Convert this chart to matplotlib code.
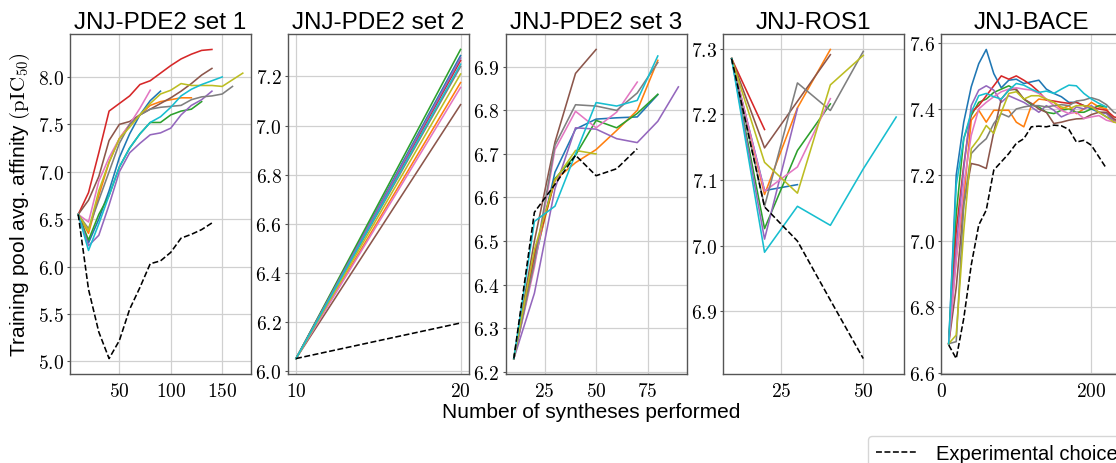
import matplotlib
matplotlib.use("Agg")
import matplotlib.pyplot as plt
from matplotlib.ticker import FuncFormatter, MultipleLocator
from matplotlib.lines import Line2D

plt.rcParams['font.family'] = ['Liberation Sans', 'DejaVu Sans']
plt.rcParams['mathtext.fontset'] = 'cm'

colors = ['C0', 'C1', 'C2', 'C3', 'C4', 'C5', 'C6', 'C7', 'C8', 'C9']

# ---- JNJ-PDE2 set 1 ----
x1 = [10, 20, 30, 40, 50, 60, 70, 80, 90, 100, 110, 120, 130, 140, 150, 160, 170]
pde1 = {
    'C0': [6.55, 6.25, 6.50, 6.80, 7.15, 7.40, 7.60, 7.75, 7.85],
    'C1': [6.55, 6.35, 6.75, 7.10, 7.35, 7.50, 7.60, 7.70, 7.74, 7.76, 7.78, 7.78],
    'C2': [6.55, 6.28, 6.55, 6.75, 7.05, 7.25, 7.40, 7.52, 7.52, 7.60, 7.64, 7.66, 7.74],
    'C3': [6.55, 6.78, 7.20, 7.64, 7.72, 7.80, 7.92, 7.96, 8.04, 8.12, 8.19, 8.24, 8.28, 8.29],
    'C4': [6.55, 6.22, 6.33, 6.65, 7.00, 7.20, 7.30, 7.39, 7.41, 7.46, 7.60, 7.70, 7.76, 7.85],
    'C5': [6.55, 6.70, 6.95, 7.33, 7.50, 7.53, 7.60, 7.66, 7.72, 7.78, 7.85, 7.93, 8.02, 8.09],
    'C6': [6.55, 6.47, 6.90, 7.15, 7.35, 7.50, 7.67, 7.86],
    'C7': [6.55, 6.40, 6.70, 7.00, 7.30, 7.50, 7.60, 7.66, 7.68, 7.69, 7.70, 7.76, 7.79, 7.80, 7.82, 7.90],
    'C8': [6.55, 6.38, 6.80, 7.10, 7.35, 7.47, 7.60, 7.72, 7.82, 7.86, 7.93, 7.91, 7.91, 7.91, 7.90, 7.97, 8.04],
    'C9': [6.55, 6.17, 6.45, 6.75, 7.05, 7.25, 7.40, 7.52, 7.58, 7.68, 7.80, 7.87, 7.92, 7.96, 8.00],
}
exp1 = [6.55, 5.76, 5.31, 5.03, 5.22, 5.55, 5.78, 6.03, 6.06, 6.15, 6.30, 6.34, 6.39, 6.46]

# ---- JNJ-PDE2 set 2 ----
x2 = [10, 20]
pde2 = {
    'C0': [6.05, 7.285], 'C1': [6.05, 7.175], 'C2': [6.05, 7.31], 'C3': [6.05, 7.265],
    'C4': [6.05, 7.275], 'C5': [6.05, 7.085], 'C6': [6.05, 7.155], 'C7': [6.05, 7.24],
    'C8': [6.05, 7.21], 'C9': [6.05, 7.25],
}
exp2 = [6.05, 6.195]

# ---- JNJ-PDE2 set 3 ----
x3 = [10, 20, 30, 40, 50, 60, 70, 80, 90]
pde3 = {
    'C0': [6.23, 6.45, 6.658, 6.757, 6.78, 6.783, 6.785, 6.836],
    'C1': [6.23, 6.46, 6.64, 6.68, 6.71, 6.754, 6.80, 6.915],
    'C2': [6.23, 6.47, 6.643, 6.697, 6.777, 6.76, 6.793, 6.837],
    'C3': [6.23, 6.47, 6.64],
    'C4': [6.23, 6.38, 6.62, 6.76, 6.757, 6.735, 6.726, 6.775, 6.854],
    'C5': [6.23, 6.50, 6.727, 6.885, 6.94],
    'C6': [6.23, 6.44, 6.71, 6.798, 6.76, 6.796, 6.865],
    'C7': [6.23, 6.45, 6.72, 6.813, 6.81, 6.80, 6.84, 6.91],
    'C8': [6.23, 6.48, 6.64, 6.708, 6.70],
    'C9': [6.23, 6.545, 6.58, 6.70, 6.818, 6.81, 6.823, 6.925],
}
exp3 = [6.23, 6.566, 6.63, 6.697, 6.65, 6.666, 6.712]

# ---- JNJ-ROS1 ----
x4 = [10, 20, 30, 40, 50, 60]
ros1 = {
    'C0': [7.285, 7.084, 7.093],
    'C1': [7.285, 7.078, 7.21, 7.299],
    'C2': [7.285, 7.026, 7.145, 7.216],
    'C3': [7.285, 7.177],
    'C4': [7.285, 7.01, 7.209],
    'C5': [7.285, 7.149, 7.22, 7.291],
    'C6': [7.285, 7.083, 7.12, 7.224],
    'C7': [7.285, 7.06, 7.248, 7.206, 7.296],
    'C8': [7.285, 7.127, 7.08, 7.245, 7.29],
    'C9': [7.285, 6.99, 7.06, 7.031, 7.117, 7.196],
}
exp4 = [7.285, 7.059, 7.007, 6.917, 6.828]

# ---- JNJ-BACE ----
x5 = [10, 20, 30, 40, 50, 60, 70, 80, 90, 100, 110, 120, 130, 140, 150, 160,
      170, 180, 190, 200, 210, 220, 230, 240]
bace = {
    'C0': [6.69, 7.20, 7.36, 7.467, 7.537, 7.58, 7.507, 7.464, 7.487, 7.49, 7.477, 7.482,
           7.487, 7.46, 7.447, 7.437, 7.42, 7.42, 7.41, 7.40, 7.39, 7.376, 7.366, 7.36],
    'C1': [6.69, 6.95, 7.13, 7.366, 7.396, 7.36, 7.396, 7.396, 7.396, 7.36, 7.346, 7.41,
           7.43, 7.427, 7.42, 7.40, 7.41, 7.386, 7.40, 7.42, 7.406, 7.40, 7.366, 7.36],
    'C2': [6.69, 7.08, 7.31, 7.38, 7.42, 7.43, 7.45, 7.46, 7.47, 7.457, 7.43, 7.413,
           7.406, 7.39, 7.386, 7.396, 7.40, 7.39, 7.39, 7.40, 7.41, 7.406],
    'C3': [6.69, 7.03, 7.23, 7.39, 7.41, 7.44, 7.47, 7.50, 7.49, 7.50, 7.487, 7.472,
           7.452, 7.427, 7.424, 7.42, 7.417, 7.42, 7.41, 7.406, 7.40, 7.396, 7.376, 7.37],
    'C4': [6.69, 6.98, 7.22, 7.41, 7.457, 7.47, 7.457, 7.42, 7.44, 7.43, 7.42, 7.406,
           7.39, 7.41, 7.396, 7.376, 7.386, 7.406, 7.40, 7.41, 7.39, 7.386, 7.363, 7.36],
    'C5': [6.69, 6.86, 7.11, 7.235, 7.23, 7.22, 7.33, 7.43, 7.457, 7.46, 7.43, 7.417,
           7.40, 7.39, 7.356, 7.36, 7.366, 7.37, 7.371, 7.383, 7.39, 7.39, 7.37, 7.36],
    'C6': [6.69, 6.94, 7.17, 7.32, 7.40, 7.42, 7.437, 7.452, 7.46, 7.464, 7.46, 7.457,
           7.447, 7.43, 7.41, 7.396, 7.386, 7.39, 7.371, 7.376, 7.38, 7.366, 7.36, 7.36],
    'C7': [6.69, 6.696, 7.11, 7.265, 7.29, 7.31, 7.356, 7.386, 7.376, 7.40, 7.406, 7.41,
           7.41, 7.406, 7.41, 7.413, 7.41, 7.424, 7.427, 7.434, 7.427, 7.413, 7.39, 7.38],
    'C8': [6.69, 6.716, 7.03, 7.28, 7.31, 7.35, 7.326, 7.39, 7.447, 7.452, 7.43, 7.44,
           7.44, 7.43, 7.42, 7.406, 7.40, 7.41, 7.41, 7.406, 7.39, 7.376, 7.36, 7.355],
    'C9': [6.69, 7.17, 7.31, 7.39, 7.44, 7.447, 7.437, 7.43, 7.457, 7.477, 7.472, 7.46,
           7.45, 7.454, 7.447, 7.46, 7.472, 7.47, 7.447, 7.43, 7.417, 7.406],
}
exp5 = [6.686, 6.645, 6.766, 6.928, 7.049, 7.094, 7.215, 7.24, 7.265, 7.296, 7.31, 7.346,
        7.348, 7.346, 7.351, 7.349, 7.338, 7.30, 7.305, 7.29, 7.255, 7.22]

panels = [
    ('JNJ-PDE2 set 1', x1, pde1, exp1, [50, 100, 150], 0.5),
    ('JNJ-PDE2 set 2', x2, pde2, exp2, [10, 20], 0.2),
    ('JNJ-PDE2 set 3', x3, pde3, exp3, [25, 50, 75], 0.1),
    ('JNJ-ROS1', x4, ros1, exp4, [25, 50], 0.1),
    ('JNJ-BACE', x5, bace, exp5, [0, 200], 0.2),
]

fig = plt.figure(figsize=(11.16, 4.64), dpi=100)
W, H = 1116, 464
LW = 1.15

for i, (title, xs, series, exp, xt, ystep) in enumerate(panels):
    left = 70 + i * 217.8
    ax = fig.add_axes([left / W, 1 - 375 / H, 181 / W, 340 / H])
    for c in colors:
        ys = series[c]
        ax.plot(xs[:len(ys)], ys, color=c, lw=LW)
    ax.plot(xs[:len(exp)], exp, color='black', ls='--', lw=LW)
    ax.set_title(title, fontsize=17.5, pad=4)
    ax.set_xticks(xt)
    ax.yaxis.set_major_locator(MultipleLocator(ystep))
    ax.xaxis.set_major_formatter(FuncFormatter(lambda v, p: f'${v:.0f}$'))
    ax.yaxis.set_major_formatter(FuncFormatter(lambda v, p: f'${v:.1f}$'))
    ax.tick_params(axis='x', length=0, labelsize=14, pad=6)
    ax.tick_params(axis='y', length=2.5, width=0.8, color='#555555', labelsize=14, pad=2)
    ax.grid(True, color='#d0d0d0', lw=0.9)
    ax.set_axisbelow(True)
    for s in ax.spines.values():
        s.set_color('#555555')
        s.set_linewidth(1.0)
    if i == 0:
        ax.set_ylabel('Training pool avg. affinity $(\\mathrm{pIC}_{50})$', fontsize=15, labelpad=4)
    if i == 4:
        ax.set_xlim(0, 241)

fig.text(591 / W, 1 - 413 / H, 'Number of syntheses performed', fontsize=15,
         ha='center', va='center')

handle = Line2D([], [], color='black', ls='--', lw=LW)
fig.legend([handle], ['Experimental choice'], loc='upper left',
           bbox_to_anchor=(868 / W, 1 - 437 / H), fontsize=14.5, frameon=True,
           edgecolor='#cccccc', handlelength=2.1, handletextpad=0.9, borderaxespad=0)

fig.savefig('out.png', dpi=100)
